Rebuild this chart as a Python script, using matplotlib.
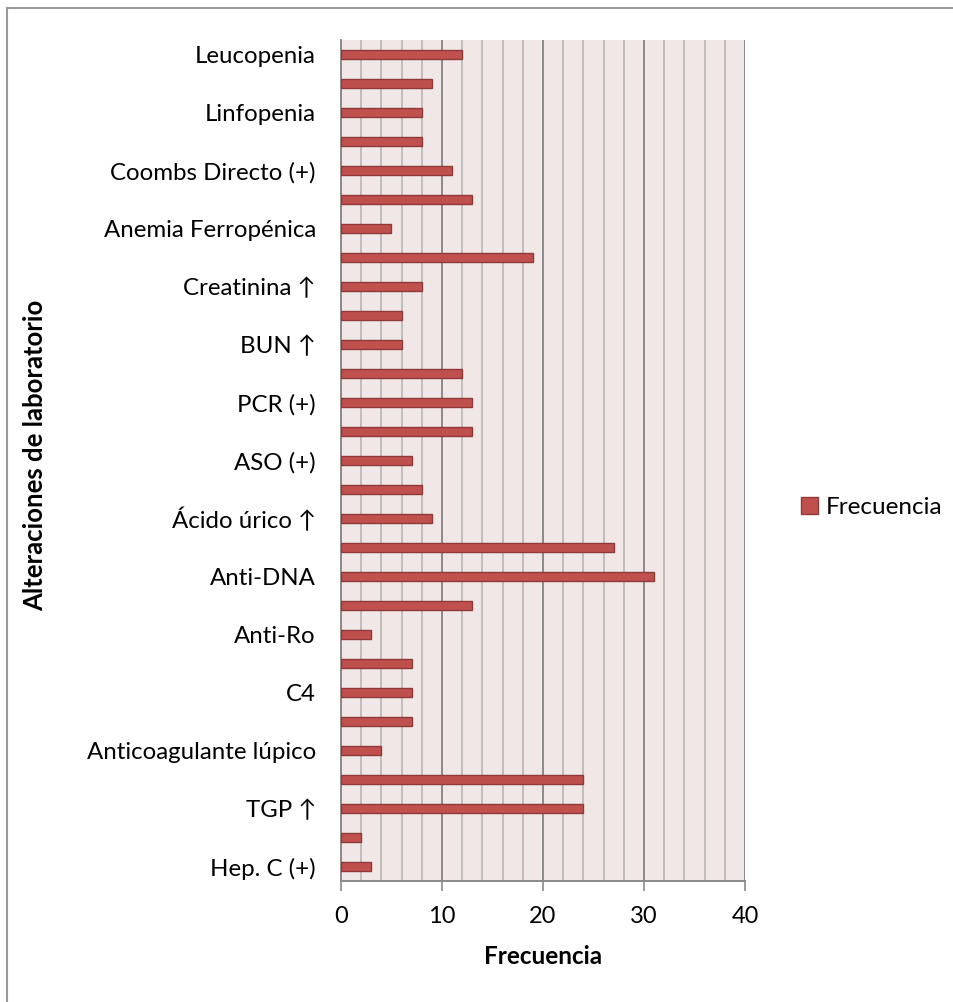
import numpy as np
import matplotlib.pyplot as plt
from matplotlib.lines import Line2D

plt.rcParams['font.family'] = ['Lato', 'DejaVu Sans']

# alteraciones de laboratorio, de arriba hacia abajo
categorias = [
    'Leucopenia', 'Neutropenia', 'Linfopenia', 'Trombocitopenia',
    'Coombs Directo (+)', 'Anemia hemolítica', 'Anemia Ferropénica',
    'Anemia de enf. crónica', 'Creatinina ↑', 'Proteinuria', 'BUN ↑',
    'VSG ↑', 'PCR (+)', 'FR (+)', 'ASO (+)', 'Hipoalbuminemia',
    'Ácido úrico ↑', 'ANA (+)', 'Anti-DNA', 'Anti-Sm', 'Anti-Ro',
    'C3 ↓', 'C4', 'Anticardiolipinas', 'Anticoagulante lúpico',
    'TGO ↑', 'TGP ↑', 'Hep. B (+)', 'Hep. C (+)',
]
frecuencia = [12, 9, 8, 8, 11, 13, 5, 19, 8, 6, 6, 12, 13, 13, 7, 8, 9,
              27, 31, 13, 3, 7, 7, 7, 4, 24, 24, 2, 3]
xticks = [0, 10, 20, 30, 40]

fig = plt.figure(figsize=(9.54, 10.02), dpi=100)
ax = fig.add_axes([0.3574, 0.1205, 0.4235, 0.8397])
ax.set_facecolor('#F2E7E7')

y = np.arange(len(categorias))
ax.barh(y, frecuencia, height=0.3, color='#C0504D', edgecolor='#8E3A38',
        linewidth=1.0, label='Frecuencia', zorder=3)

ax.set_xlim(0, 40)
ax.set_ylim(len(categorias) - 0.5, -0.5)

# rejilla vertical: mayor cada 10, menor cada 2
ax.set_xticks(xticks)
ax.set_xticks(np.arange(0, 41, 2), minor=True)
ax.grid(axis='x', which='minor', color='#B5B5B5', linewidth=1.2, zorder=1)
ax.grid(axis='x', which='major', color='#8A8A8A', linewidth=1.4, zorder=2)
ax.tick_params(axis='x', which='major', length=7, width=1.2, color='#8A8A8A',
               labelsize=17, pad=11)
ax.tick_params(axis='x', which='minor', length=0)

# solo se rotula una de cada dos categorías
ax.set_yticks(y)
ax.set_yticklabels([c if i % 2 == 0 else '' for i, c in enumerate(categorias)])
ax.tick_params(axis='y', length=0, labelsize=17.3, pad=18)

for s in ['top', 'right']:
    ax.spines[s].set_visible(False)
ax.spines['left'].set_color('#8A8A8A')
ax.spines['left'].set_linewidth(1.4)
ax.spines['bottom'].set_color('#8A8A8A')
ax.spines['bottom'].set_linewidth(1.4)

ax.set_xlabel('Frecuencia', fontsize=17.5, fontweight='bold', labelpad=13)
fig.text(0.037, 0.546, 'Alteraciones de laboratorio', rotation=90,
         fontsize=18.5, fontweight='bold', ha='center', va='center')

fig.legend(handles=[plt.Rectangle((0, 0), 1, 1, facecolor='#C0504D',
                                  edgecolor='#8E3A38', linewidth=1.0)],
           labels=['Frecuencia'], loc='center left',
           bbox_to_anchor=(0.840, 0.494), frameon=False, fontsize=17.5,
           handlelength=0.7, handleheight=0.7, handletextpad=0.3,
           borderpad=0, borderaxespad=0)

# marco del gráfico
fig.add_artist(Line2D([0.0075, 0.0075], [0, 0.992], color='#9A9A9A',
                      linewidth=1.5, transform=fig.transFigure))
fig.add_artist(Line2D([0.0075, 1.0], [0.992, 0.992], color='#9A9A9A',
                      linewidth=1.5, transform=fig.transFigure))

plt.savefig('out.png', dpi=100)
